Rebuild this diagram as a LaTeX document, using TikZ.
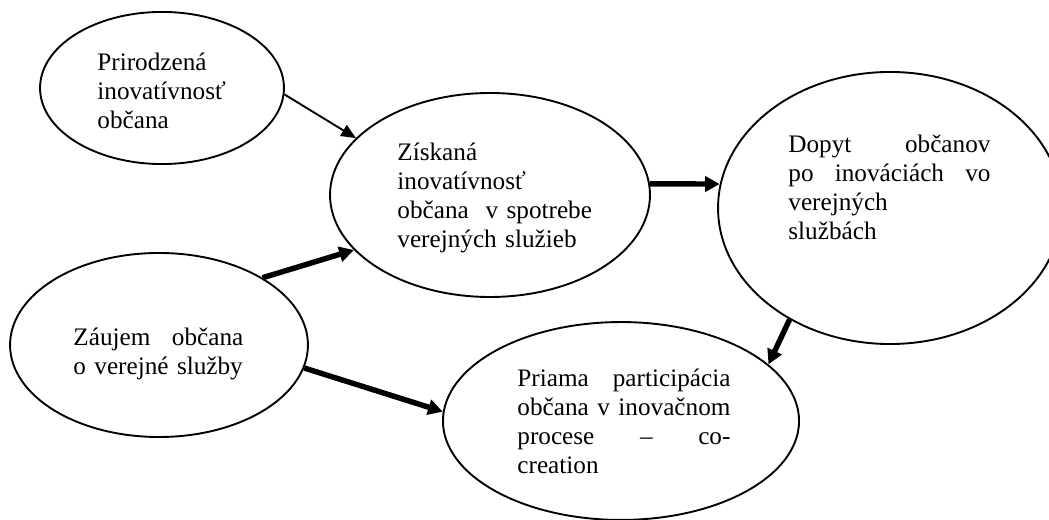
\documentclass[tikz,border=0pt]{standalone}
\usepackage{fontspec}
\setmainfont{Liberation Serif}
\usetikzlibrary{%
	shapes.geometric,%
	arrows.meta
}

\tikzset{
	bubble/.style={draw, ellipse, line width=0.9pt, inner sep=0pt},
	txt/.style={anchor=base west, align=left, inner sep=0pt, font=\fontsize{12pt}{13.8pt}\selectfont},
	thinarrow/.style={line width=0.9pt, -{Triangle[length=7pt,width=6pt]}},
	thickarrow/.style={line width=2.6pt, -{Triangle[length=7pt,width=7.2pt]}}
}

\begin{document}
\begin{tikzpicture}[x=0.476pt, y=-0.476pt]
			\useasboundingbox (0,0) rectangle (1049,520);
			\clip (0,0) rectangle (1049,520);
			
			% Draw the ellipses
			\node[bubble, minimum width=116.1pt, minimum height=72.4pt] (prir) at (162,88) {};
			\node[bubble, minimum width=152.3pt, minimum height=97.1pt] (ziskana) at (490,195) {};
			\node[bubble, minimum width=163.7pt, minimum height=129.5pt] (dopyt) at (890,208) {};
			\node[bubble, minimum width=141.8pt, minimum height=87.6pt] (zaujem) at (159,345) {};
			\node[bubble, minimum width=169.5pt, minimum height=94.2pt] (priama) at (621,421) {};
			
			% Write the texts inside the ellipses
			\node[txt, text width=66.6pt] (prir-t) at (97,71) {Prirodzená\\ inovatívnosť\\ občana};
			\node[txt, text width=95pt] (ziskana-t) at (397,161) {Získaná\\ inovatívnosť\\ občana\ \ v spotrebe\\ verejných služieb};
			\node[txt, text width=96.2pt] (dopyt-t) at (788,153) {Dopyt\hfill občanov\\ po\hfill inováciách\hfill vo\\ verejných\\ službách};
			\node[txt, text width=80.9pt] (zaujem-t) at (73,346) {Záujem\hfill občana\\ o verejné služby};
			\node[txt, text width=101.4pt] (priama-t) at (517,387) {Priama\hfill participácia\\ občana\hfill v\hfill inovačnom\\ procese\hfill –\hfill co-\\ creation};
			
			% Draw the thin arrow
			\draw[thinarrow] (prir.-3) -- (ziskana.157);
			
			% Draw the thick arrows
			\foreach \a/\b in {ziskana.4/dopyt.172, zaujem.33/ziskana.202, zaujem.-9/priama.177, dopyt.228/priama.21} {
				\draw[thickarrow] (\a) -- (\b);
			}
		\end{tikzpicture}
\end{document}
